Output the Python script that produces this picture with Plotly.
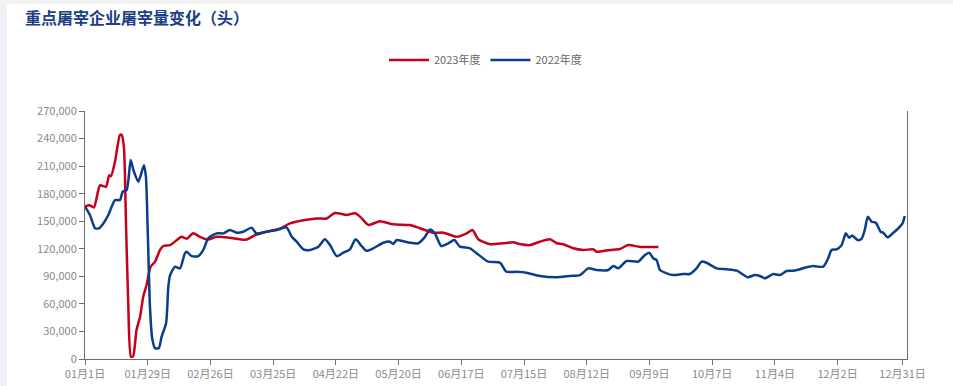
import plotly.graph_objects as go

# ---- data (x = day index in the year, values in head) ----
tick_days = [0, 28, 56, 84, 112, 140, 168, 196, 224, 252, 280, 308, 336, 365]
tick_labels = ["01月1日", "01月29日", "02月26日", "03月25日", "04月22日", "05月20日",
               "06月17日", "07月15日", "08月12日", "09月9日", "10月7日", "11月4日",
               "12月2日", "12月31日"]

days_2023 = [0, 2, 4, 6.7, 9.4, 10.8, 11.6, 13.4, 15.6, 16.4, 17.4, 18.3, 19.3, 20.5,
             21.5, 23, 24.6, 26, 27.5, 29.3, 31.3, 33.5, 35, 38, 41, 43, 45.4, 48.3,
             51.3, 55, 58.8, 64.7, 72, 76, 81, 87, 91.5, 97.5, 103.4, 107.9, 111.6,
             116.8, 120.5, 122.8, 126.5, 131.7, 137.6, 145, 149.6, 155.5, 160, 166,
             170.4, 173, 175.6, 180.8, 186.7, 191.2, 194, 198.7, 203, 207.6, 210.6,
             213.5, 218, 222.4, 227, 228.4, 234.4, 238.8, 242.5, 247.8, 256]
vals_2023 = [166000, 167500, 165000, 189000, 187600, 200000, 199000, 214800, 243900,
             243900, 229700, 148000, 61000, 2500, 3000, 31600, 46000, 67800, 80600,
             100500, 106000, 118700, 123000, 124000, 129500, 133000, 131000, 137000,
             133000, 130000, 133000, 132000, 130000, 135000, 138600, 142000, 147600,
             151000, 153000, 153000, 159000, 156800, 158600, 155000, 146000, 150000,
             146600, 145900, 142300, 137500, 137500, 133000, 136800, 140400, 130300,
             124900, 126000, 127000, 125200, 124000, 127700, 130300, 126000, 124900,
             120500, 118700, 119400, 116800, 118700, 119700, 124000, 122000, 122000]

days_2022 = [0, 2.2, 4.5, 6.2, 8.2, 10.4, 13.4, 15.6, 16.8, 18.6, 20.4, 21.6, 23.8, 26.3,
             27.2, 28, 29, 30, 31.3, 33, 34.2, 36.2, 37.2, 38, 40.2, 42.4, 44.6, 45.4,
             47.6, 50.6, 52.8, 55, 58.8, 61.7, 64.7, 67.7, 70.7, 74.4, 76.5, 81, 85.6,
             90, 92.3, 94.5, 97.5, 100.4, 104.2, 107.1, 109.4, 112.4, 115.3, 118.3,
             120.8, 123.5, 125.7, 128.7, 133.2, 136.2, 137.6, 139.2, 145, 148.8, 151.8,
             154, 156.2, 159, 162.2, 164.9, 167.4, 171.9, 174.9, 180, 185.3, 188.2,
             192.7, 197.1, 203.1, 210.6, 216.5, 221, 224.7, 228.4, 233.6, 235.9, 238.1,
             241.8, 247, 250, 251.9, 253.7, 255.2, 256.7, 259.7, 262.6, 267, 270, 273,
             275.3, 277.5, 282, 286.5, 291, 296, 299, 301.3, 303.6, 307.3, 310.3, 313.2,
             316.2, 319.2, 322.2, 325.1, 329.6, 331.8, 333.3, 335.5, 337.8, 339.7, 341.2,
             342.5, 345, 346.7, 348.2, 349.5, 351.2, 353.1, 355.2, 356.4, 358.3, 360.9,
             363.1, 365, 366]
vals_2022 = [165800, 156800, 142300, 142300, 147600, 156800, 173000, 173000, 182000,
             184000, 216600, 205800, 193000, 211000, 198500, 140000, 57000, 22500, 11600,
             12000, 24300, 38900, 78700, 91400, 100500, 98700, 115000, 116800, 112000,
             112000, 118700, 131400, 136800, 136800, 140400, 137500, 138600, 143000,
             136800, 138600, 140400, 143400, 133000, 127700, 119400, 118700, 122300,
             130300, 124000, 112000, 115700, 119400, 130300, 123000, 117900, 120500,
             126600, 127700, 125200, 129500, 126600, 126000, 133000, 141000, 136800,
             123000, 126000, 129500, 122300, 120500, 115000, 106000, 104800, 95000,
             95000, 94000, 90400, 89000, 90400, 91400, 98700, 96900, 96900, 101200,
             98700, 106700, 106000, 113200, 115700, 109600, 107800, 96900, 93300, 91400,
             92500, 92500, 98700, 106000, 104800, 98700, 97700, 96200, 89000, 91400,
             90400, 87900, 92500, 91400, 95800, 96200, 97700, 99800, 101200, 100500,
             109600, 118700, 119400, 124000, 136800, 132000, 134500, 129500, 130800,
             141000, 155000, 149500, 148400, 138600, 137500, 132500, 137500, 142300,
             147600, 155700]

# ---- figure ----
RED = "#c4001a"
BLUE = "#0a3d8c"
AXIS = "#6e6e6e"
TXT = "#8a8a8a"

fig = go.Figure()
fig.add_trace(go.Scatter(x=days_2023, y=vals_2023, name="2023年度", mode="lines",
                         line=dict(color=RED, width=2.5, shape="spline", smoothing=0.6)))
fig.add_trace(go.Scatter(x=days_2022, y=vals_2022, name="2022年度", mode="lines",
                         line=dict(color=BLUE, width=2.5, shape="spline", smoothing=0.6)))

fig.update_layout(
    width=953, height=386,
    margin=dict(l=85, r=46, t=111, b=27, autoexpand=False),
    paper_bgcolor="white", plot_bgcolor="white",
    font=dict(family="Noto Sans CJK SC, Noto Sans, sans-serif", size=11, color=TXT),
    title=dict(text="<b>重点屠宰企业屠宰量变化（头）</b>", xref="container", yref="container",
               x=25 / 953, y=1 - 18 / 386, xanchor="left", yanchor="middle",
               font=dict(family="Noto Sans CJK SC", size=16, color="#1b3f82")),
    showlegend=True,
    legend=dict(orientation="h", x=(485.5 - 85) / 822, xanchor="center",
                y=1 + 51 / 248, yanchor="middle",
                font=dict(size=11, color="#666666"), itemwidth=40,
                bgcolor="rgba(0,0,0,0)"),
    xaxis=dict(range=[0, 367], tickmode="array", tickvals=tick_days, ticktext=tick_labels,
               showgrid=False, zeroline=False, showline=True, linecolor=AXIS, linewidth=1,
               ticks="outside", ticklen=5, tickcolor=AXIS, automargin=False,
               tickfont=dict(size=11, color=TXT)),
    yaxis=dict(range=[0, 270000], tickmode="linear", tick0=0, dtick=30000,
               tickformat=",d", showgrid=False, zeroline=False, showline=True,
               linecolor=AXIS, linewidth=1, mirror=True, automargin=False,
               ticks="outside", ticklen=5, tickcolor=AXIS,
               tickfont=dict(size=11, color=TXT)),
    shapes=[
        dict(type="rect", xref="paper", yref="paper",
             x0=-85 / 822, x1=-78 / 822, y0=-27 / 248, y1=1 + 111 / 248,
             fillcolor="#eef0f5", line=dict(width=0), layer="below"),
        dict(type="rect", xref="paper", yref="paper",
             x0=-85 / 822, x1=1 + 46 / 822, y0=1 + 107 / 248, y1=1 + 111 / 248,
             fillcolor="#f2f2f2", line=dict(width=0), layer="below"),
    ],
)

fig.write_html("out.html", config={"displayModeBar": False},
               post_script="document.body.style.margin='0px';document.body.style.overflow='hidden';")
